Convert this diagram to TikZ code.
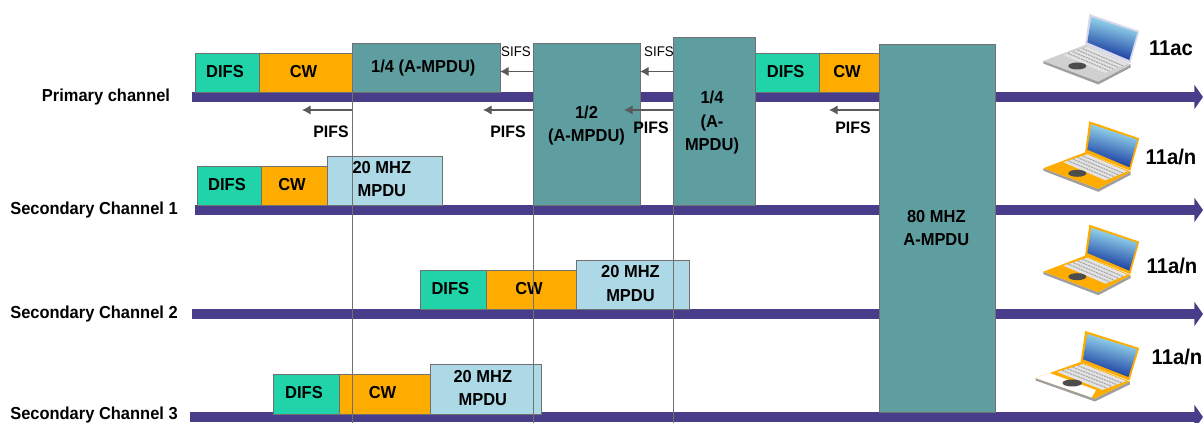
\documentclass[tikz,border=0pt]{standalone}
\usepackage{fontspec}
\setmainfont{Liberation Sans}
\newfontfamily\narrowfont[FakeStretch=0.95]{Liberation Sans}
\usetikzlibrary{arrows.meta,calc}
\definecolor{difsc}{HTML}{20D3A8}
\definecolor{cwc}{HTML}{FFAC00}
\definecolor{mpduc}{HTML}{ADD8E6}
\definecolor{tealc}{HTML}{5F9EA0}
\definecolor{barc}{HTML}{483D8B}
\definecolor{edgec}{HTML}{707070}
\definecolor{arrc}{HTML}{5A5A5A}
\definecolor{lapgray}{HTML}{D0D0D0}
\definecolor{lapbezel}{HTML}{D8D8EC}
\definecolor{screenmid}{HTML}{1E9BE0}
\definecolor{screenlow}{HTML}{0A2A98}
\definecolor{screentop}{HTML}{A8EEF8}
\tikzset{
  slot/.style={draw=edgec,line width=.7pt,inner sep=0pt,outer sep=0pt,align=center,text=black,
    font=\narrowfont\bfseries\fontsize{13}{17.5}\selectfont},
  difs/.style={slot,fill=difsc},
  cw/.style={slot,fill=cwc},
  mpdu/.style={slot,fill=mpduc},
  ampdu/.style={slot,fill=tealc},
  chan/.style={line width=8.2pt,draw=barc,-{Triangle[length=6.5pt,width=18pt]}},
  vline/.style={draw=edgec,line width=.7pt},
  gap/.style={draw=arrc,line width=.8pt,-{Latex[length=6.5pt,width=7pt]}},
  chanlabel/.style={font=\narrowfont\bfseries\fontsize{13}{14}\selectfont,text=black,inner sep=0pt},
  gaplabel/.style={font=\narrowfont\bfseries\fontsize{12.5}{14}\selectfont,text=black,inner sep=0pt},
  siflabel/.style={font=\narrowfont\fontsize{10.5}{13}\selectfont,text=black,inner sep=0pt},
  stdlabel/.style={font=\narrowfont\bfseries\fontsize{16}{18}\selectfont,text=black,inner sep=0pt},
}
% text of a box, moved left by half of #1 and up by #2
\newcommand\tshift[3]{\raisebox{\dimexpr #2-.25em\relax}[0pt][0pt]{\begin{tabular}{@{}c@{}}#3\end{tabular}}\hspace*{#1}}
\newcommand\slotbox[7]{%
  \node[#2,minimum width={(#5-#3)*0.75pt},minimum height={(#6-#4)*0.75pt}] (#1) at ({(#3+#5)/2},{(#4+#6)/2}) {#7};}
% #1 x, #2 y, #3 deck colour, #4 bezel colour, #5 x scale, #6 extra deck drawing
\newcommand\laptopicon[6]{%
  \begin{scope}[shift={(#1,#2)},xscale=#5]
    \fill[gray!75] (0,0) -- (0,2.5) -- (55,23.5) -- (87.3,6.5) -- (87.3,3.5) -- (55,20.5) -- cycle;
    \fill[#3] (0,0) -- (41.7,-16) -- (87.3,3.5) -- (55,20.5) -- cycle;
    #6
    \fill[gray!22] (20,-6) -- (44,-14) -- (84,3) -- (62,12) -- cycle;
    \foreach \t in {0.2,0.4,0.6,0.8}{
      \draw[gray!70,line width=.8pt,dash pattern=on 1.5pt off .6pt]
        ($(20,-6)!\t!(44,-14)$) -- ($(62,12)!\t!(84,3)$);}
    \fill[black!70] (34,5) ellipse [x radius=9,y radius=3.5];
    \fill[#4] (46,-47) -- (96,-30) -- (87,2.5) -- (41.7,-16) -- cycle;
    \shade[top color=screentop,middle color=screenmid,bottom color=screenlow,shading angle=-15]
      (48,-44) -- (94,-28.7) -- (86,-1) -- (44,-18.7) -- cycle;
  \end{scope}}
\begin{document}
\begin{tikzpicture}[x=0.75pt,y=-0.75pt]
\useasboundingbox (0,0) rectangle (1203,423);
% channel axes
\coordinate (p0) at (192,97);  \coordinate (p1) at (1203,97);
\coordinate (a0) at (195,210); \coordinate (a1) at (1203,210);
\coordinate (b0) at (192,314); \coordinate (b1) at (1203,314);
\coordinate (c0) at (190,417); \coordinate (c1) at (1203,417);
\draw[chan] (p0) -- (p1);
\draw[chan] (a0) -- (a1);
\draw[chan] (b0) -- (b1);
\draw[chan] (c0) -- (c1);
% primary
\slotbox{d1}{difs}{195}{53}{259}{92}{\tshift{3pt}{0pt}{DIFS}}
\slotbox{w1}{cw}{259}{53}{352}{92}{\tshift{3pt}{0pt}{CW}}
\slotbox{q1}{ampdu}{352}{43}{500}{92}{\tshift{4pt}{0pt}{1/4 (A-MPDU)}}
\slotbox{h1}{ampdu}{533}{43}{640}{205}{\tshift{0pt}{-1pt}{1/2\\(A-MPDU)}}
\slotbox{q2}{ampdu}{673}{37}{755}{205}{\tshift{3pt}{-1pt}{1/4\\(A-\\MPDU)}}
\slotbox{d2}{difs}{755}{53}{819}{92}{\tshift{2pt}{0pt}{DIFS}}
\slotbox{w2}{cw}{819}{53}{879}{92}{\tshift{3pt}{0pt}{CW}}
\slotbox{f1}{ampdu}{879}{44}{995}{412}{\tshift{1pt}{-.7pt}{80 MHZ\\A-MPDU}}
% secondary 1
\slotbox{d3}{difs}{197}{166}{261}{205}{\tshift{3pt}{0pt}{DIFS}}
\slotbox{w3}{cw}{261}{166}{327}{205}{\tshift{3pt}{0pt}{CW}}
\slotbox{m3}{mpdu}{327}{156}{442}{205}{\tshift{4pt}{.3pt}{20 MHZ\\MPDU}}
% secondary 2
\slotbox{d4}{difs}{420}{270}{486}{309}{\tshift{4pt}{0pt}{DIFS}}
\slotbox{w4}{cw}{486}{270}{576}{309}{\tshift{3pt}{0pt}{CW}}
\slotbox{m4}{mpdu}{576}{260}{689}{309}{\tshift{3pt}{0pt}{20 MHZ\\MPDU}}
% secondary 3
\slotbox{d5}{difs}{273}{374}{339}{414}{\tshift{3pt}{0pt}{DIFS}}
\slotbox{w5}{cw}{339}{374}{430}{414}{\tshift{3pt}{0pt}{CW}}
\slotbox{m5}{mpdu}{430}{364}{541}{414}{\tshift{4pt}{0pt}{20 MHZ\\MPDU}}
% vertical guides
\coordinate (v1) at (352,423); \coordinate (v2) at (533,423); \coordinate (v3) at (673,423);
\draw[vline] (q1.north west) -- (v1);
\draw[vline] (h1.south west) -- (v2);
\draw[vline] (q2.south west) -- (v3);
% SIFS
\draw[gap] (h1.west |- 0,71.5) -- (q1.east |- 0,71.5);
\draw[gap] (q2.west |- 0,71.5) -- (h1.east |- 0,71.5);
\node[siflabel] (s1) at (516,52) {SIFS};
\node[siflabel] (s2) at (659,52) {SIFS};
% PIFS
\coordinate (e1) at (302,110); \coordinate (e2) at (483,110);
\coordinate (e3) at (624,110); \coordinate (e4) at (829,110);
\draw[gap] (q1.south west |- 0,110) -- (e1);
\draw[gap] (h1.west |- 0,110) -- (e2);
\draw[gap] (q2.west |- 0,110) -- (e3);
\draw[gap] (f1.west |- 0,110) -- (e4);
\node[gaplabel] (g1) at (331,132) {PIFS};
\node[gaplabel] (g2) at (508,132) {PIFS};
\node[gaplabel] (g3) at (651,128) {PIFS};
\node[gaplabel] (g4) at (853,128) {PIFS};
% channel labels
\node[chanlabel] (l0) at (106,97) {Primary channel};
\node[chanlabel] (l1) at (94,210) {Secondary Channel 1};
\node[chanlabel] (l2) at (94,314) {Secondary Channel 2};
\node[chanlabel] (l3) at (94,415) {Secondary Channel 3};
% laptops
\laptopicon{1043.3}{61}{lapgray}{lapbezel}{1}{}
\laptopicon{1043.3}{168.3}{cwc}{cwc}{1}{}
\laptopicon{1043.3}{271.7}{cwc}{cwc}{1}{}
\laptopicon{1035.5}{378}{cwc}{cwc}{1.08}{\fill[white] (0,0) -- (13,-5) -- (56,12) -- (52,19.5) -- cycle;}
\node[stdlabel] (t1) at (1171,48) {11ac};
\node[stdlabel] (t2) at (1171,157) {11a/n};
\node[stdlabel] (t3) at (1172,266) {11a/n};
\node[stdlabel] (t4) at (1177,357) {11a/n};
\end{tikzpicture}
\end{document}
